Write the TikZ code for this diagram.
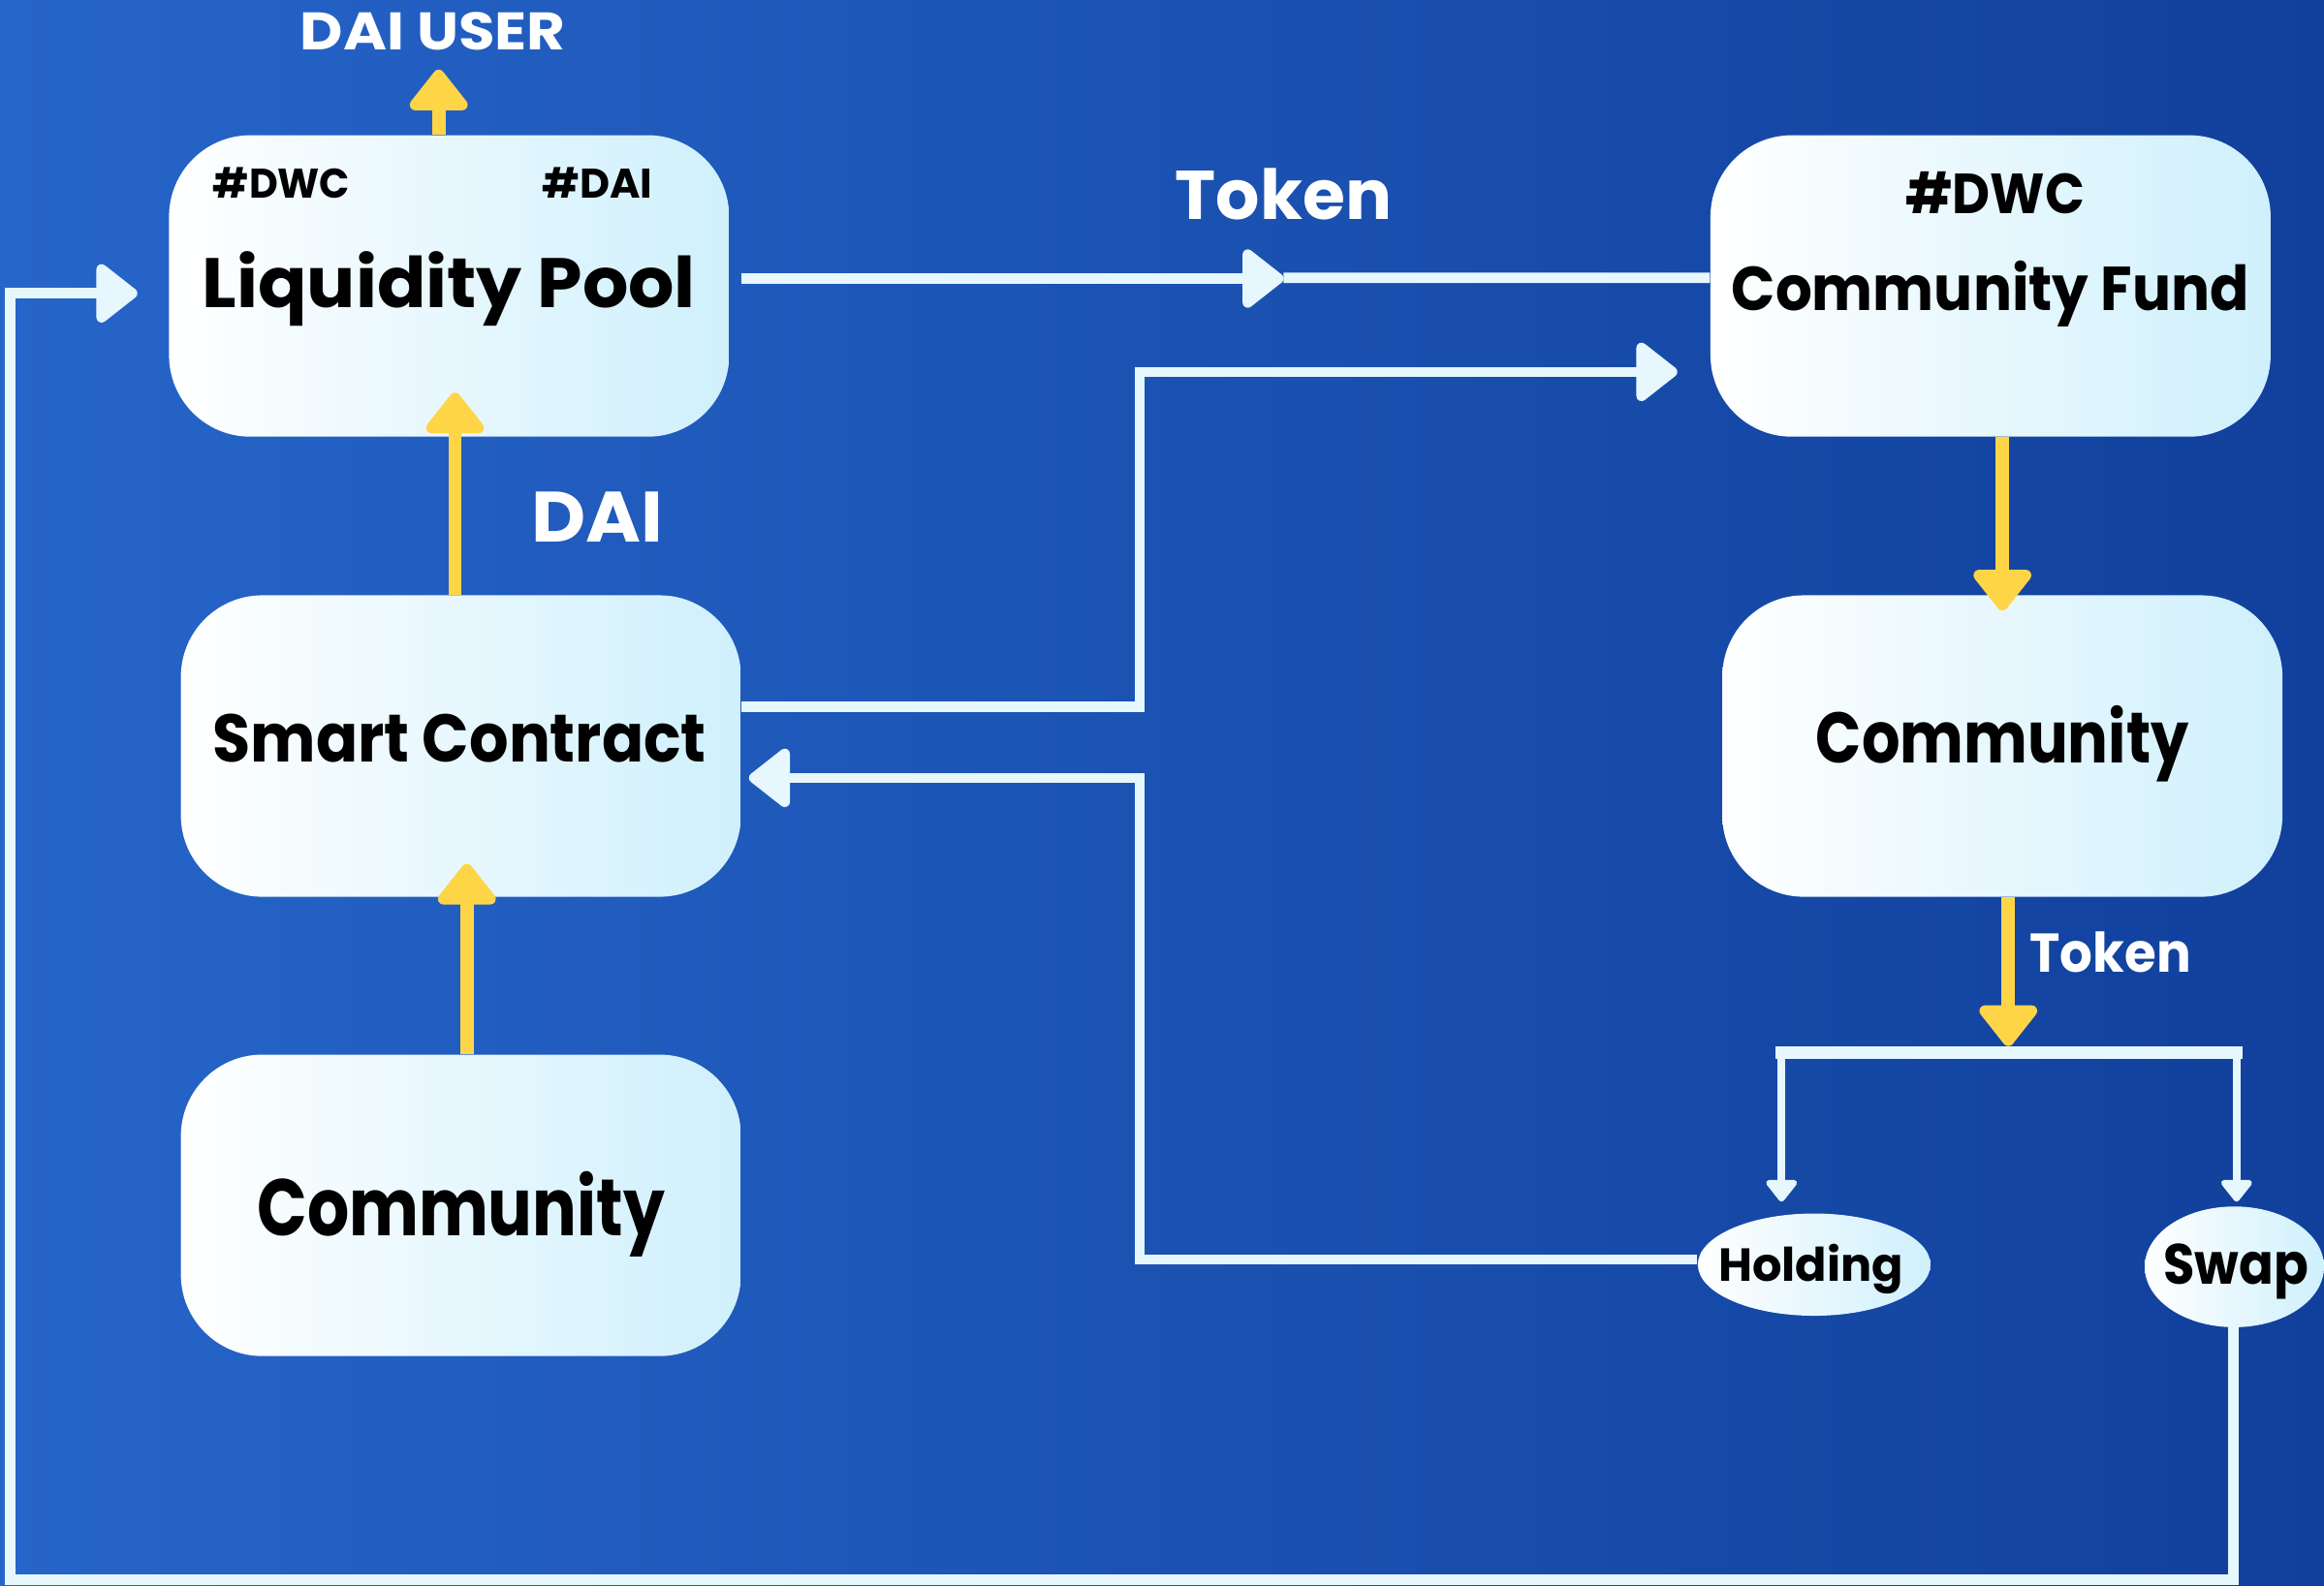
\documentclass[tikz,border=0pt]{standalone}
\usepackage{fontspec}
\setmainfont{Poppins}
\usetikzlibrary{arrows.meta,shapes.geometric}
\definecolor{bgL}{HTML}{2665C9}
\definecolor{bgR}{HTML}{11409C}
\definecolor{boxcyan}{HTML}{CFF0FC}
\definecolor{linecol}{HTML}{E6F7FD}
\definecolor{ycol}{HTML}{FFD548}
\tikzset{
  box/.style={rounded corners=1.1cm, minimum width=7.56cm, minimum height=4.07cm,
    left color=white, right color=boxcyan, draw=none, inner sep=0pt},
  oval/.style={ellipse, left color=white, right color=boxcyan, draw=none, inner sep=0pt},
  lbl/.style={anchor=base, inner sep=0pt, text=black},
  wlbl/.style={anchor=base, inner sep=0pt, text=white},
  wline/.style={draw=linecol, line width=0.14cm},
  warrow/.style={-{Triangle[length=0.6cm,width=0.9cm,round]}},
  sarrow/.style={-{Triangle[length=0.32cm,width=0.48cm,round]}},
  yarrow/.style={draw=ycol, line width=0.18cm, -{Triangle[length=0.6cm,width=0.9cm,round]}},
}
\newcommand\fsz[1]{\fontsize{#1}{#1}\selectfont\bfseries}
\newcommand\sx[2]{\scalebox{#1}[1]{#2}}
\begin{document}
\begin{tikzpicture}[x=0.02cm,y=-0.02cm]
\useasboundingbox (0,0) rectangle (1568,1070);
\shade[left color=bgL, right color=bgR] (0,0) rectangle (1568,1070);

% boxes
\node[box] (LP) at (303,193) {};
\node[box] (SC) at (311,503.5) {};
\node[box] (CL) at (311,813.5) {};
\node[box] (CF) at (1343,193) {};
\node[box] (CR) at (1351,503.5) {};
\node[oval, minimum width=3.14cm, minimum height=1.38cm] (Hold) at (1224,853.5) {};
\node[oval, minimum width=2.42cm, minimum height=1.63cm] (Swap) at (1507.5,855) {};

% texts
\node[wlbl, font=\fsz{20.3}] (user) at (292,34) {\sx{1.12}{DAI USER}};
\node[lbl, font=\fsz{15.9}] (tagA) at (190,134) {\sx{0.96}{\#DWC}};
\node[lbl, font=\fsz{15.9}] (tagB) at (403,134) {\#DAI};
\node[lbl, font=\fsz{26.9}] (tLP) at (303,207.6) {\sx{1.03}{Liquidity Pool}};
\node[wlbl, font=\fsz{26.5}] (tok1) at (866,148) {Token};
\node[wlbl, font=\fsz{27.4}] (dai) at (403,365.6) {\sx{1.05}{DAI}};
\node[lbl, font=\fsz{25.9}] (tSC) at (310,514.6) {\sx{0.915}{Smart Contract}};
\node[lbl, font=\fsz{30.8}] (tCL) at (311,834) {\sx{0.82}{Community}};
\node[lbl, font=\fsz{21.7}] (tagC) at (1346,144.5) {\sx{0.92}{\#DWC}};
\node[lbl, font=\fsz{23.8}] (tCF) at (1343,209.3) {\sx{0.93}{Community Fund}};
\node[lbl, font=\fsz{27.5}] (tCR) at (1351,515) {\sx{0.84}{Community}};
\node[wlbl, font=\fsz{21}] (tok2) at (1424,656) {\sx{0.94}{Token}};
\node[lbl, font=\fsz{17.8}] (tHold) at (1222,864.5) {Holding};
\node[lbl, font=\fsz{21.8}] (tSwap) at (1508.5,867) {\sx{0.9}{Swap}};

% free ends
\coordinate (uTip) at (296,47);
\coordinate (lpIn) at (307,265);
\coordinate (scIn) at (315,583);
\coordinate (crIn) at (1351,412);
\coordinate (brIn) at (1355,706);
\coordinate (mid) at (866,188);
\coordinate (holdTip) at (1202,811);
\coordinate (swapTip) at (1509,811);

% white connectors
\draw[wline, warrow] (LP.east) ++(8,-5) -- (mid);
\draw[wline] (mid) ++(0,-0.5) -- (CF.west |- 0,187.5);
\draw[wline, warrow] (SC.east |- 0,477) -- (769,477) -- (769,251) -- ([xshift=-0.44cm]CF.west |- 0,251);
\draw[wline, warrow] (Hold.west |- 0,850) -- (769,850) -- (769,525) -- ([xshift=0.1cm]SC.east |- 0,525);
\draw[wline, warrow] (Swap.south -| 1507,0) -- (1507,1066) -- (7,1066) -- (7,198) -- ([xshift=-0.42cm]LP.west |- 0,198);

% branch
\draw[draw=linecol, line width=0.18cm] (1198,710.5) -- (1513,710.5);
\draw[draw=linecol, line width=0.11cm, sarrow] (1202,710) -- (holdTip);
\draw[draw=linecol, line width=0.11cm, sarrow] (1509,710) -- (swapTip);

% yellow connectors
\draw[yarrow] (LP.north -| 296,0) -- (uTip);
\draw[yarrow] (SC.north -| 307,0) -- (lpIn);
\draw[yarrow] (CL.north -| 315,0) -- (scIn);
\draw[yarrow] (CF.south -| 1351,0) -- (crIn);
\draw[yarrow] (CR.south -| 1355,0) -- (brIn);
\end{tikzpicture}
\end{document}
